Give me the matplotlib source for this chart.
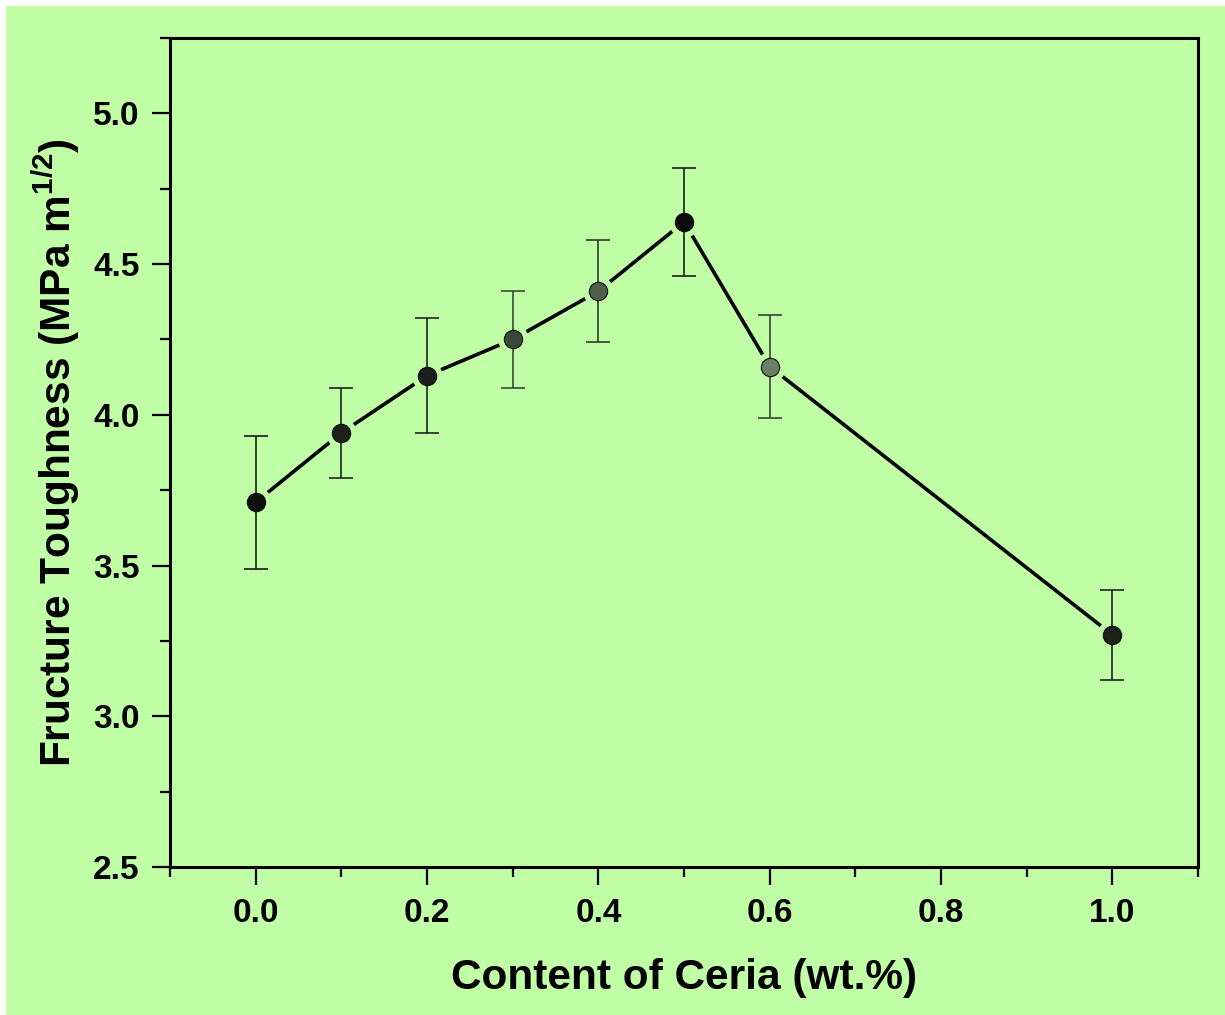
import matplotlib
matplotlib.use("Agg")
import matplotlib.pyplot as plt
from matplotlib.patches import Rectangle
from matplotlib.ticker import MultipleLocator

plt.rcParams['font.family'] = ['Liberation Sans', 'DejaVu Sans']
plt.rcParams['font.weight'] = 'bold'
plt.rcParams['mathtext.fontset'] = 'custom'
plt.rcParams['mathtext.rm'] = 'Liberation Sans:bold'
plt.rcParams['mathtext.bf'] = 'Liberation Sans:bold'

# ceria content vs fracture toughness
ceria = [0.0, 0.1, 0.2, 0.3, 0.4, 0.5, 0.6, 1.0]
toughness = [3.71, 3.94, 4.13, 4.25, 4.41, 4.64, 4.16, 3.27]
err = [0.22, 0.15, 0.19, 0.16, 0.17, 0.18, 0.17, 0.15]
dot_colors = ['#0e0f0d', '#1b2119', '#1a2018', '#3b4a38', '#4f5f4b', '#0a0b0a', '#6b7f66', '#1c221a']
bar_colors = ['#1a1d18', '#1f251d', '#1f251d', '#3c4a3a', '#2e3a2c', '#1a1d18', '#35432f', '#1f251d']

bg = '#c1ffa7'

fig = plt.figure(figsize=(12.25, 10.15), dpi=100, facecolor='white')
fig.patches.append(Rectangle((6 / 1225, 0), 1, 1 - 6 / 1015, transform=fig.transFigure,
                             facecolor=bg, edgecolor='none', zorder=-10))

ax = fig.add_axes([0.1388, 0.1458, 0.978 - 0.1388, 0.9626 - 0.1458])
ax.set_facecolor(bg)

# connecting line, broken a little around each dot
ax.plot(ceria, toughness, color='black', lw=2.6, zorder=1)
ax.plot(ceria, toughness, 'o', ms=21, color=bg, mec=bg, zorder=2)

for xv, yv, e, c in zip(ceria, toughness, err, bar_colors):
    ax.errorbar(xv, yv, yerr=e, fmt='none', ecolor=c, elinewidth=1.2,
                capsize=8.5, capthick=1.2, zorder=3)

for xv, yv, c in zip(ceria, toughness, dot_colors):
    ax.plot(xv, yv, 'o', ms=13.2, color=c, mec='#0b0c0a', mew=0.8, zorder=4)

ax.set_xlim(-0.1, 1.1)
ax.set_ylim(2.5, 5.25)
ax.xaxis.set_major_locator(MultipleLocator(0.2))
ax.xaxis.set_minor_locator(MultipleLocator(0.1))
ax.yaxis.set_major_locator(MultipleLocator(0.5))
ax.yaxis.set_minor_locator(MultipleLocator(0.25))
ax.set_xticks([0.0, 0.2, 0.4, 0.6, 0.8, 1.0])
ax.set_xticklabels(['0.0', '0.2', '0.4', '0.6', '0.8', '1.0'])
ax.set_yticks([2.5, 3.0, 3.5, 4.0, 4.5, 5.0])
ax.set_yticklabels(['2.5', '3.0', '3.5', '4.0', '4.5', '5.0'])

ax.tick_params(which='major', direction='out', length=13, width=1.6, labelsize=24, pad=9)
ax.tick_params(which='minor', direction='out', length=7, width=1.6)
ax.tick_params(top=False, right=False, which='both')
for s in ax.spines.values():
    s.set_linewidth(2.2)

ax.set_xlabel('Content of Ceria (wt.%)', fontsize=30.5, fontweight='bold', labelpad=21)
ax.set_ylabel(r'Fructure Toughness (MPa m$^{\mathrm{1/2}}$)', fontsize=30.5,
              fontweight='bold', labelpad=8)

fig.savefig('out.png', dpi=100, facecolor=fig.get_facecolor())
